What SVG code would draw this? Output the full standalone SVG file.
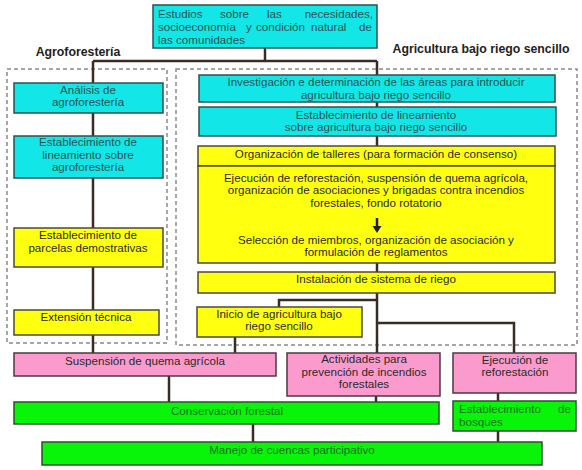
<svg xmlns="http://www.w3.org/2000/svg" width="582" height="470" viewBox="0 0 582 470">
<defs>
<style>
text{font-family:"Liberation Sans",Arial,sans-serif;font-size:11.6px;fill:#2a2a2a;text-anchor:middle}
.t{font-weight:bold;font-size:12.3px;fill:#222}
.s{text-anchor:start}
.e{text-anchor:end}
.cy rect{fill:#12e6e6;stroke:#2f4f4f;stroke-width:1.5}
.cy text{fill:#2a5252}
.ye rect{fill:#ffff10;stroke:#4a4a3a;stroke-width:1.5}
.yl{fill:#ffff6e;stroke:#4a4a3a;stroke-width:1.5}
.pk rect{fill:#fb9acd;stroke:#4a3a40;stroke-width:1.5}
.gr rect{fill:#08f408;stroke:#2f4f2f;stroke-width:1.5}
.gr text{fill:#1c6e1c}
.dash{fill:none;stroke:#8a8a8a;stroke-width:1.5;stroke-dasharray:4 3}
#connectors path{fill:none;stroke:#3a2c24;stroke-width:2.5}
</style>
</defs>
<rect width="582" height="470" fill="#ffffff"/>

<rect class="dash" x="7" y="69" width="160" height="274"/>
<rect class="dash" x="176" y="69" width="401" height="276"/>
<text class="t" x="78" y="56">Agroforestería</text>
<text class="t" x="481" y="53">Agricultura bajo riego sencillo</text>

<g id="connectors">
<path d="M265,47 V61 M93,61 H377 M93,61 V83 M377,61 V75"/>
<path d="M93,113 V136 M93,178 V228 M93,267 V310 M93,335 V353"/>
<path d="M377,102 V107 M377,136 V146 M377,263 V272 M377,293 V353 M377,300 H279 V307 M377,323 H514 V353 M235,337 V353"/>
<path d="M169,376 V402 M376,396 V402 M498,393 V401 M253,424 V442 M498,431 V442"/>
</g>

<g id="estudios" class="cy">
<rect x="153" y="5" width="224" height="43"/>
<text y="17.5"><tspan class="s" x="158">Estudios</tspan><tspan class="s" x="220">sobre</tspan><tspan class="s" x="267">las</tspan><tspan class="e" x="373">necesidades,</tspan></text>
<text y="30.5"><tspan class="s" x="158">socioeconomía</tspan><tspan class="s" x="246">y</tspan><tspan class="s" x="256">condición</tspan><tspan class="s" x="311">natural</tspan><tspan class="e" x="372">de</tspan></text>
<text class="s" x="158" y="43.5">las comunidades</text>
</g>

<g id="analisis" class="cy">
<rect x="14" y="83" width="149" height="30"/>
<text x="88" y="93.5">Análisis de</text>
<text x="88" y="106">agroforestería</text>
</g>
<g id="lineamiento-agro" class="cy">
<rect x="14" y="136" width="149" height="42"/>
<text x="88" y="146">Establecimiento de</text>
<text x="88" y="158.5">lineamiento sobre</text>
<text x="88" y="171">agroforestería</text>
</g>
<g id="parcelas" class="ye">
<rect x="14" y="228" width="149" height="39"/>
<text x="88" y="239">Establecimiento de</text>
<text x="88" y="251.5">parcelas demostrativas</text>
</g>
<g id="extension" class="ye">
<rect x="14" y="310" width="145" height="25"/>
<text x="86" y="321">Extensión técnica</text>
</g>

<g id="investigacion" class="cy">
<rect x="199" y="75" width="356" height="27"/>
<text x="376" y="86">Investigación e determinación de las áreas para introducir</text>
<text x="376" y="98.5">agricultura bajo riego sencillo</text>
</g>
<g id="lineamiento-riego" class="cy">
<rect x="199" y="107" width="357" height="29"/>
<text x="376" y="118.5">Establecimiento de lineamiento</text>
<text x="376" y="131">sobre agricultura bajo riego sencillo</text>
</g>
<g id="talleres" class="ye">
<rect x="198" y="146" width="357" height="20"/>
<text x="376" y="157.5">Organización de talleres (para formación de consenso)</text>
<rect class="yl" x="198" y="166" width="357" height="97"/>
<text x="376" y="181.5">Ejecución de reforestación, suspensión de quema agrícola,</text>
<text x="376" y="194">organización de asociaciones y brigadas contra incendios</text>
<text x="376" y="206.5">forestales, fondo rotatorio</text>
<path d="M377,218 V227" stroke="#222" stroke-width="2.5" fill="none"/>
<polygon points="372.5,226 381.5,226 377,233" fill="#222"/>
<text x="376" y="243.5">Selección de miembros, organización de asociación y</text>
<text x="376" y="256">formulación de reglamentos</text>
</g>
<g id="instalacion" class="ye">
<rect x="198" y="272" width="357" height="21"/>
<text x="376" y="282.5">Instalación de sistema de riego</text>
</g>
<g id="inicio" class="ye">
<rect x="197" y="307" width="165" height="30"/>
<text x="279" y="317.5">Inicio de agricultura bajo</text>
<text x="279" y="330">riego sencillo</text>
</g>

<g id="suspension" class="pk">
<rect x="14" y="353" width="262" height="23"/>
<text x="145" y="364.5">Suspensión de quema agrícola</text>
</g>
<g id="actividades" class="pk">
<rect x="287" y="353" width="153" height="43"/>
<text x="364" y="363">Actividades para</text>
<text x="364" y="375.5">prevención de incendios</text>
<text x="364" y="388">forestales</text>
</g>
<g id="reforestacion" class="pk">
<rect x="453" y="353" width="123" height="40"/>
<text x="515" y="363.5">Ejecución de</text>
<text x="515" y="376">reforestación</text>
</g>
<g id="conservacion" class="gr">
<rect x="14" y="402" width="425" height="22"/>
<text x="227" y="414.5">Conservación forestal</text>
</g>
<g id="bosques" class="gr">
<rect x="453" y="401" width="123" height="30"/>
<text y="413"><tspan class="s" x="459">Establecimiento</tspan><tspan class="e" x="571">de</tspan></text>
<text class="s" x="459" y="425.5">bosques</text>
</g>
<g id="manejo" class="gr">
<rect x="42" y="442" width="500" height="23"/>
<text x="292" y="453.5">Manejo de cuencas participativo</text>
</g>
</svg>
